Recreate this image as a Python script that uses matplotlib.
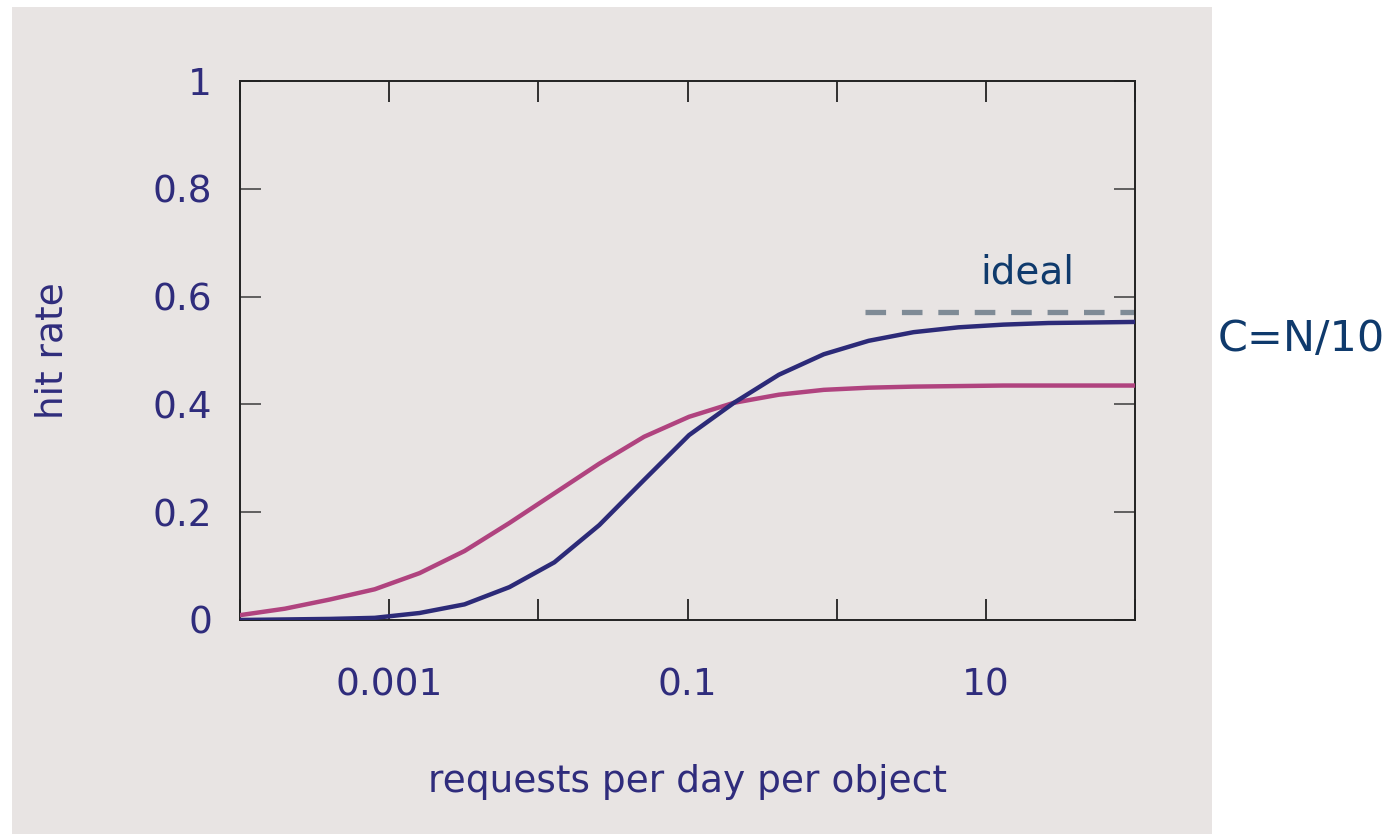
import matplotlib
matplotlib.use("Agg")
import matplotlib.pyplot as plt
from matplotlib.patches import Rectangle

# Request rate grid (requests per day per object)
rate = [1e-4, 2e-4, 4e-4, 8e-4, 0.0016, 0.0032, 0.0064, 0.0128, 0.0256,
        0.0512, 0.1024, 0.2048, 0.4096, 0.8192, 1.6384, 3.2768, 6.5536,
        13.1072, 26.2144, 52.4288, 100]

# Hit rate for the two cache policies
hit_blue = [0.000, 0.001, 0.002, 0.004, 0.013, 0.029, 0.061, 0.107, 0.176,
            0.260, 0.343, 0.403, 0.455, 0.493, 0.518, 0.534, 0.543, 0.548,
            0.551, 0.552, 0.553]
hit_pink = [0.009, 0.021, 0.038, 0.057, 0.087, 0.128, 0.180, 0.235, 0.290,
            0.340, 0.377, 0.403, 0.418, 0.427, 0.431, 0.433, 0.434, 0.435,
            0.435, 0.435, 0.435]

# Ideal hit rate and the range it is drawn over
ideal_rate = [1.55, 100]
ideal_hit = [0.571, 0.571]

xticks = [1e-4, 1e-3, 1e-2, 1e-1, 1, 10, 100]
xticklabels = ["", "0.001", "", "0.1", "", "10", ""]
yticks = [0, 0.2, 0.4, 0.6, 0.8, 1.0]
yticklabels = ["0", "0.2", "0.4", "0.6", "0.8", "1"]

TEXT = "#2f2c7c"
NOTE = "#0f3a6c"
PANEL = "#e8e4e3"

plt.rcParams["font.family"] = ["DejaVu Sans"]

fig = plt.figure(figsize=(13.95, 8.34), dpi=100)
fig.patch.set_facecolor("white")
fig.patches.append(Rectangle((12 / 1395, 0), 1200 / 1395, 827 / 834,
                             transform=fig.transFigure, facecolor=PANEL,
                             edgecolor="none", zorder=-5))

ax = fig.add_axes([240 / 1395, 1 - 620 / 834, 895 / 1395, 539 / 834])
ax.set_zorder(2)
ax.set_facecolor("none")

ax.plot(rate, hit_pink, color="#b0437f", lw=3.2, zorder=3)
ax.plot(rate, hit_blue, color="#2c2a78", lw=3.2, zorder=4)
ax.plot(ideal_rate, ideal_hit, color="#7f8b96", lw=3.8,
        linestyle=(0, (3.9, 3.0)), clip_on=False, zorder=2)

ax.set_xscale("log")
ax.set_xlim(1e-4, 100)
ax.set_ylim(0, 1)
ax.set_xticks(xticks)
ax.set_xticklabels(xticklabels)
ax.xaxis.set_minor_locator(matplotlib.ticker.NullLocator())
ax.set_yticks(yticks)
ax.set_yticklabels(yticklabels)

ax.tick_params(axis="x", direction="in", length=15, width=1.3, color="#222222",
               top=True, bottom=True, labelsize=27, labelcolor=TEXT, pad=34)
ax.tick_params(axis="y", direction="in", length=15, width=1.3, color="#555555",
               left=True, right=True, labelsize=27, labelcolor=TEXT, pad=20)
for s in ax.spines.values():
    s.set_color("#222222")
    s.set_linewidth(1.4)

ax.set_xlabel("requests per day per object", fontsize=27, color=TEXT, labelpad=44)
ax.set_ylabel("hit rate", fontsize=27, color=TEXT, labelpad=59)

ax.text(19, 0.645, "ideal", fontsize=28, color=NOTE, ha="center", va="center")
fig.text(1218 / 1395, 1 - 339 / 834, "C=N/10", fontsize=31, color=NOTE,
         ha="left", va="center")

fig.savefig("out.png", dpi=100)
